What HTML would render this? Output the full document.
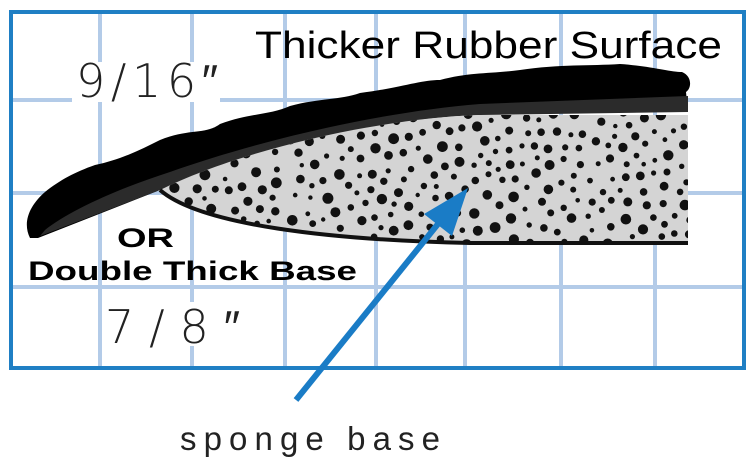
<!DOCTYPE html>
<html><head><meta charset="utf-8"><style>
html,body{margin:0;padding:0;background:#fff;width:750px;height:471px;overflow:hidden}
svg{display:block}
</style></head><body>
<svg id="s" width="750" height="471" viewBox="0 0 750 471" xmlns="http://www.w3.org/2000/svg">
<defs>
<clipPath id="sp"><path d="M160,190 C240,150 380,118 480,115 L688,115 L688,243 L470,243 C330,240 200,225 160,190 Z"/></clipPath>
</defs>
<g stroke="#b3cbe8" stroke-width="4">
<line x1="100" y1="12" x2="100" y2="368"/><line x1="192" y1="12" x2="192" y2="368"/>
<line x1="285" y1="12" x2="285" y2="368"/><line x1="376" y1="12" x2="376" y2="368"/>
<line x1="465" y1="12" x2="465" y2="368"/><line x1="561" y1="12" x2="561" y2="368"/>
<line x1="655" y1="12" x2="655" y2="368"/>
<line x1="10" y1="100" x2="745" y2="100"/><line x1="10" y1="193" x2="745" y2="193"/>
<line x1="10" y1="287" x2="745" y2="287"/>
</g>
<rect x="11" y="12" width="733" height="356" fill="none" stroke="#1f7fc4" stroke-width="4"/>
<rect x="72" y="62" width="148" height="40" fill="#fff"/>
<rect x="102" y="302" width="140" height="44" fill="#fff"/>
<!-- rubber -->
<path d="M30,238 C22,222 30,205 45,192 C60,180 75,172 95,165 C120,160 140,150 160,140 C190,128 205,135 220,124 C250,113 270,115 290,106 C320,98 340,100 360,93 C400,88 420,80 440,80 C470,72 490,74 520,70 C560,64 590,66 620,64 C650,66 670,72 682,72 C692,76 692,88 686,92 L688,112 L480,112 C380,118 260,150 160,190 L38,238 Z" fill="#000"/>
<path d="M45,230 C70,210 120,188 170,172 C260,140 380,112 480,104 L688,96 L688,112 L480,115 C380,118 260,150 160,190 L40,236 Z" fill="#2b2b2b"/>
<!-- sponge -->
<path d="M160,190 C240,150 380,118 480,115 L688,115 L688,243 L470,243 C330,240 200,225 160,190 Z" fill="#d4d4d4"/>
<g id="dots" clip-path="url(#sp)" fill="#111"></g>
<path d="M160,190 C200,225 330,240 470,243 L688,243" fill="none" stroke="#111" stroke-width="4"/>
<!-- arrow -->
<line x1="296" y1="400" x2="446" y2="214" stroke="#1a7cc6" stroke-width="6"/>
<polygon points="468,188 424,214 452,236" fill="#1a7cc6"/>
<g font-family="Liberation Sans, sans-serif">
<text x="255" y="58" font-size="38" fill="#000" textLength="467" lengthAdjust="spacingAndGlyphs">Thicker Rubber Surface</text>
<text x="76" y="97" font-size="46" fill="#222" font-family="DejaVu Sans, sans-serif" font-weight="200" textLength="142" lengthAdjust="spacing">9/16″</text>
<text x="117" y="247" font-size="27" font-weight="bold" textLength="57" lengthAdjust="spacingAndGlyphs">OR</text>
<text x="28" y="280" font-size="27" font-weight="bold" textLength="329" lengthAdjust="spacingAndGlyphs">Double Thick Base</text>
<text x="105" y="343" font-size="46" fill="#222" font-family="DejaVu Sans, sans-serif" font-weight="200" textLength="135" lengthAdjust="spacing">7/8″</text>
<text x="180" y="450" font-size="33" fill="#222" textLength="260" lengthAdjust="spacing">sponge base</text>
</g>
</svg>
<script>
var g=document.getElementById('dots'),seed=11;
function r(){seed=(seed*16807)%2147483647;return seed/2147483647;}
var h='',pts=[];
for(var i=0;i<4000&&pts.length<420;i++){var x=160+r()*530,y=112+r()*135,rad=2.2+r()*3.3,ok=true;
for(var j=0;j<pts.length;j++){var d=Math.hypot(pts[j][0]-x,pts[j][1]-y);if(d<pts[j][2]+rad+5){ok=false;break;}}
if(!ok)continue;pts.push([x,y,rad]);
h+='<circle cx="'+x.toFixed(1)+'" cy="'+y.toFixed(1)+'" r="'+rad.toFixed(1)+'"/>';}
g.innerHTML=h;
</script>
</body></html>
